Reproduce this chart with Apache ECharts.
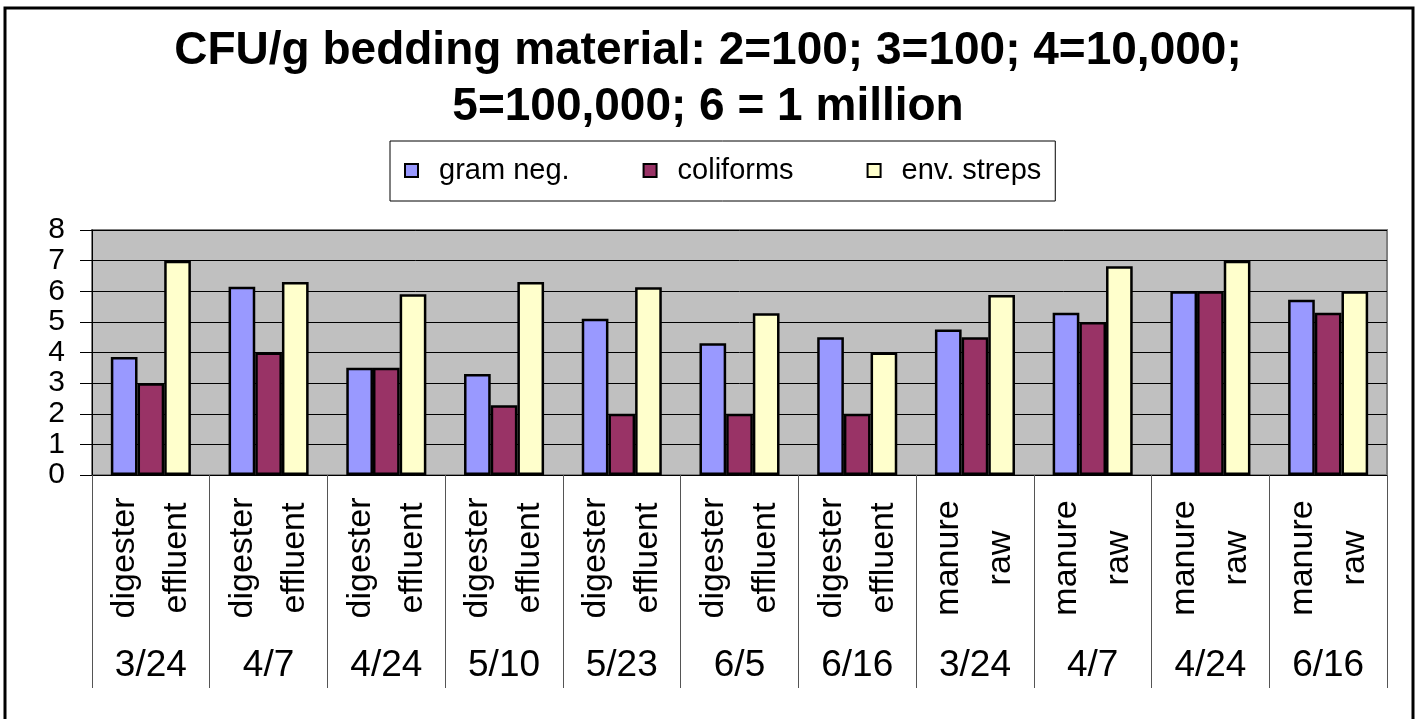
<!DOCTYPE html>
<html>
<head>
<meta charset="utf-8">
<script src="https://cdn.jsdelivr.net/npm/echarts@6/dist/echarts.min.js"></script>
<style>
  html, body { margin: 0; padding: 0; background: #fff; }
  #chart { width: 1419px; height: 719px; }
</style>
</head>
<body>
<div id="chart"></div>
<script>
// sample types and dates, one per group of bars
const sampleTypes = [
  'digester\neffluent', 'digester\neffluent', 'digester\neffluent', 'digester\neffluent',
  'digester\neffluent', 'digester\neffluent', 'digester\neffluent',
  'manure\nraw', 'manure\nraw', 'manure\nraw', 'manure\nraw'
]
const sampleDates = ['3/24', '4/7', '4/24', '5/10', '5/23', '6/5', '6/16', '3/24', '4/7', '4/24', '6/16']

// log CFU/g values
const gramNeg = [3.85, 6.15, 3.5, 3.3, 5.1, 4.3, 4.5, 4.75, 5.3, 6.0, 5.72]
const coliforms = [3.0, 4.0, 3.5, 2.28, 2.0, 2.0, 2.0, 4.5, 5.0, 6.0, 5.3]
const envStreps = [7.0, 6.3, 5.9, 6.3, 6.13, 5.28, 4.0, 5.88, 6.82, 7.0, 6.0]

const seriesNames = ['gram neg.', 'coliforms', 'env. streps']
const seriesColors = ['#9999ff', '#993366', '#ffffcc']

const font = "'Liberation Sans', Arial, sans-serif"
const chart = echarts.init(document.getElementById('chart'))

const bar = (name, data, color) => ({
  name,
  type: 'bar',
  data,
  barGap: '0%',
  barCategoryGap: '32%',
  itemStyle: { color, borderColor: '#000', borderWidth: 2.5 },
  emphasis: { disabled: true }
})

chart.setOption({
  animation: false,
  textStyle: { fontFamily: font },
  graphic: [{
    type: 'rect',
    shape: { x: 5, y: 8, width: 1408, height: 720 },
    style: { fill: 'none', stroke: '#000', lineWidth: 3 },
    z: -1
  }],
  title: {
    text: 'CFU/g bedding material: 2=100; 3=100; 4=10,000;\n5=100,000; 6 = 1 million',
    left: 703,
    top: 18,
    textAlign: 'center',
    textStyle: { fontFamily: font, fontWeight: 'bold', fontSize: 46, lineHeight: 56, color: '#000' }
  },
  legend: {
    data: seriesNames,
    left: 390,
    top: 141,
    itemWidth: 13,
    itemHeight: 13,
    itemGap: 73,
    padding: [15, 14, 16, 14],
    borderColor: '#000',
    borderWidth: 1,
    icon: 'rect',
    textStyle: { fontFamily: font, fontSize: 29, color: '#000', padding: [0, 0, 0, 16] }
  },
  grid: {
    left: 92, right: 32, top: 230, bottom: 244,
    show: true,
    backgroundColor: '#c0c0c0',
    borderColor: '#808080',
    borderWidth: 2
  },
  xAxis: [{
    type: 'category',
    data: sampleTypes,
    axisLine: { lineStyle: { color: '#000', width: 1 } },
    axisTick: { show: true, interval: 0, length: 213, lineStyle: { color: '#555', width: 1 } },
    axisLabel: {
      interval: 0, rotate: 90, align: 'center', verticalAlign: 'middle',
      margin: 83, fontSize: 34, lineHeight: 52, color: '#000', fontFamily: font
    }
  }, {
    type: 'category',
    data: sampleDates,
    position: 'bottom',
    axisLine: { show: false },
    axisTick: { show: false },
    axisLabel: { interval: 0, margin: 172, fontSize: 37, color: '#000', fontFamily: font }
  }],
  yAxis: {
    type: 'value',
    min: 0, max: 8, interval: 1,
    axisLine: { show: true, lineStyle: { color: '#000' } },
    axisTick: { show: true, length: 12, lineStyle: { color: '#000' } },
    axisLabel: { fontSize: 30, color: '#000', margin: 27, fontFamily: font },
    splitLine: { lineStyle: { color: '#000', width: 1 } }
  },
  series: [
    bar(seriesNames[0], gramNeg, seriesColors[0]),
    bar(seriesNames[1], coliforms, seriesColors[1]),
    bar(seriesNames[2], envStreps, seriesColors[2])
  ]
})
</script>
</body>
</html>
